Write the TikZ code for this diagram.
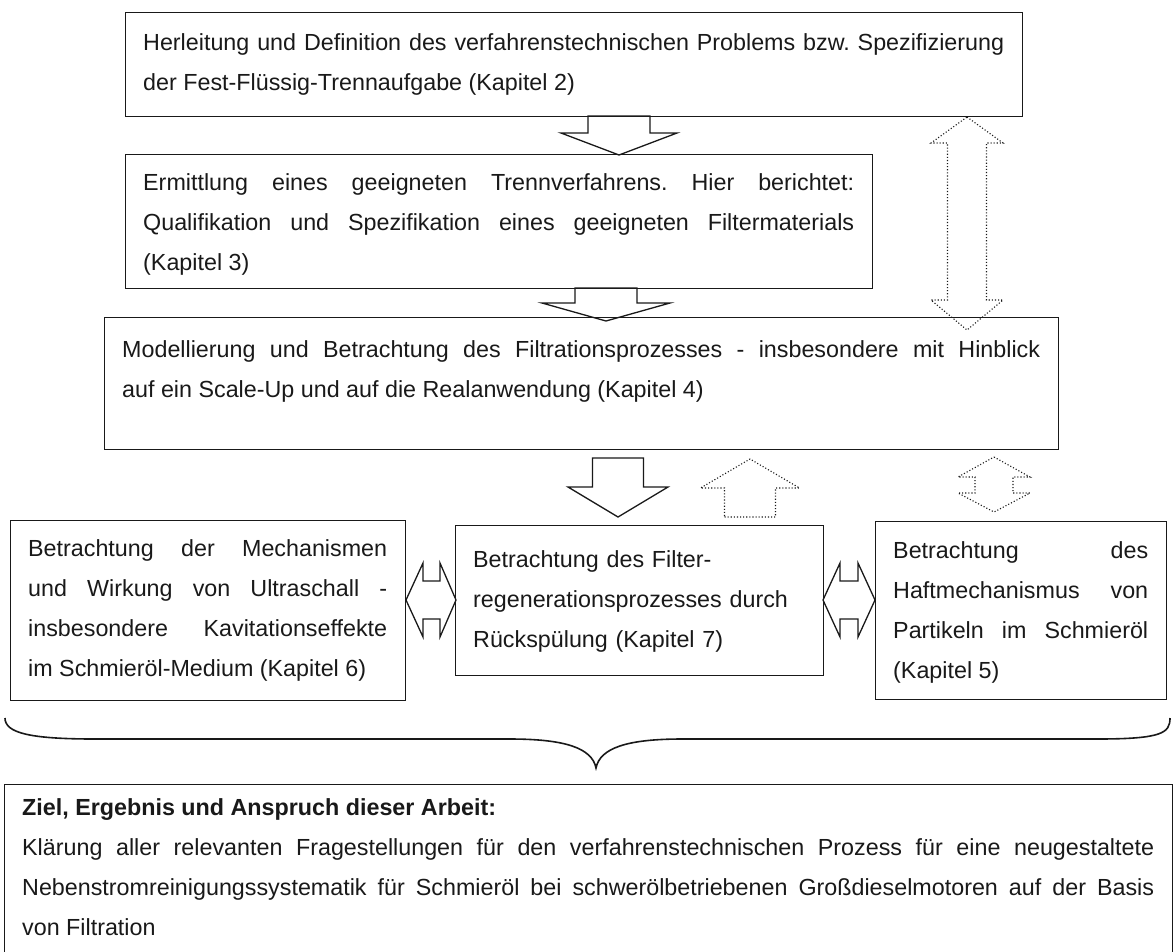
\documentclass[tikz,border=0pt]{standalone}
\usepackage{fontspec}
\setmainfont{Liberation Sans}
\usetikzlibrary{calc}
\hyphenpenalty=10000\relax
\exhyphenpenalty=10000\relax
\frenchspacing
% block arrow: cx, y shaft start, y head base, y tip, shaft half width, head half width
\newcommand\BlkShaft[7][]{%
  \draw[#1] (#2-#6,#3) -- (#2+#6,#3) -- (#2+#6,#4) -- (#2+#7,#4) -- (#2,#5) -- (#2-#7,#4) -- (#2-#6,#4) -- cycle;}
% vertical double block arrow: cx, tip1, base1, base2, tip2, shaft half, head half
\newcommand\BlkVV[8][]{%
  \draw[#1] (#2,#3) -- (#2+#8,#4) -- (#2+#7,#4) -- (#2+#7,#5) -- (#2+#8,#5) -- (#2,#6) -- (#2-#8,#5) -- (#2-#7,#5) -- (#2-#7,#4) -- (#2-#8,#4) -- cycle;}
% horizontal double block arrow: cy, tip1, base1, base2, tip2, shaft half, head half
\newcommand\BlkHH[8][]{%
  \draw[#1] (#3,#2) -- (#4,#2-#8) -- (#4,#2-#7) -- (#5,#2-#7) -- (#5,#2-#8) -- (#6,#2) -- (#5,#2+#8) -- (#5,#2+#7) -- (#4,#2+#7) -- (#4,#2+#8) -- cycle;}
\begin{document}
\begin{tikzpicture}[x=1pt,y=-1pt,
  box/.style={draw=black!90, line width=1.3pt, inner sep=0pt, anchor=north west},
  txt/.style={anchor=base west, inner sep=0pt, text=black!90,
    font=\fontsize{23.3}{40}\selectfont},
  solidarrow/.style={draw=black!90, line width=1.3pt, line join=miter},
  dotarrow/.style={draw=black!90, line width=1.1pt, dash pattern=on 1.1pt off 2pt},
  bracestyle/.style={draw=black!90, line width=1.6pt}]
\useasboundingbox (0,0) rectangle (1174,951);
\clip (0,0) rectangle (1174,951);

% boxes
\node[box, minimum width=897pt, minimum height=104pt] (b1) at (125,12) {};
\node[box, minimum width=747pt, minimum height=134pt] (b2) at (125,154) {};
\node[box, minimum width=954pt, minimum height=132pt] (b3) at (104,317) {};
\node[box, minimum width=395pt, minimum height=180pt] (b6) at (10,520) {};
\node[box, minimum width=368pt, minimum height=150pt] (b7) at (455,525) {};
\node[box, minimum width=291pt, minimum height=178pt] (b5) at (875,521) {};
\node[box, minimum width=1168pt, minimum height=180pt] (b8) at (4,784) {};

% texts
\node[txt, text width=861pt, align=justify] (t1) at ($(b1.north west)+(18,38)$)
 {Herleitung und Definition des verfahrenstechnischen Problems bzw. Spezifizierung\linebreak der Fest-Flüssig-Trennaufgabe (Kapitel 2)};
\node[txt, text width=711pt, align=justify] (t2) at ($(b2.north west)+(18,36)$)
 {Ermittlung eines geeigneten Trennverfahrens. Hier berichtet:\linebreak Qualifikation und Spezifikation eines geeigneten Filtermaterials\linebreak (Kapitel 3)};
\node[txt, text width=918pt, align=justify] (t3) at ($(b3.north west)+(18,40)$)
 {Modellierung und Betrachtung des Filtrationsprozesses - insbesondere mit Hinblick\linebreak auf ein Scale-Up und auf die Realanwendung (Kapitel 4)};
\node[txt, text width=359pt, align=justify] (t6) at ($(b6.north west)+(18,36)$)
 {Betrachtung der Mechanismen\linebreak und Wirkung von Ultraschall -\linebreak insbesondere Kavitationseffekte\linebreak im Schmieröl-Medium (Kapitel 6)};
\node[txt, text width=332pt, align=left] (t7) at ($(b7.north west)+(18,42)$)
 {Betrachtung des Filter-\\regenerationsprozesses durch\\Rückspülung (Kapitel 7)};
\node[txt, text width=255pt, align=justify] (t5) at ($(b5.north west)+(18,37)$)
 {Betrachtung des\linebreak Haftmechanismus von\linebreak Partikeln im Schmieröl\linebreak (Kapitel 5)};
\node[txt, text width=1132pt, align=justify] (t8) at ($(b8.north west)+(18,31)$)
 {\textbf{Ziel, Ergebnis und Anspruch dieser Arbeit:}\\Klärung aller relevanten Fragestellungen für den verfahrenstechnischen Prozess für eine neugestaltete\linebreak Nebenstromreinigungssystematik für Schmieröl bei schwerölbetriebenen Großdieselmotoren auf der Basis\linebreak von Filtration};

% solid block arrows
\BlkShaft[solidarrow]{619}{116}{133}{155}{31}{58}
\BlkShaft[solidarrow]{606}{288}{303}{321}{31}{64}
\BlkShaft[solidarrow]{618}{458}{487}{517}{25.5}{50}
\BlkHH[solidarrow]{600}{406}{423}{440}{456}{19}{37}
\BlkHH[solidarrow]{600}{823}{840}{858}{875}{19}{37}

% dotted block arrows
\BlkShaft[dotarrow]{750}{517}{488}{459}{25.5}{49.5}
\BlkVV[dotarrow]{994}{457}{477}{493}{512}{19}{36}
\BlkVV[dotarrow]{967}{117}{143}{300}{330}{19.5}{36}

% brace
\draw[bracestyle] (5,718) .. controls (5,733) and (30,739) .. (95,739) -- (510,739)
  .. controls (565,739) and (592,748) .. (596,768)
  .. controls (600,748) and (627,739) .. (682,739) -- (1097,739)
  .. controls (1162,739) and (1170,733) .. (1170,718);
\end{tikzpicture}
\end{document}
